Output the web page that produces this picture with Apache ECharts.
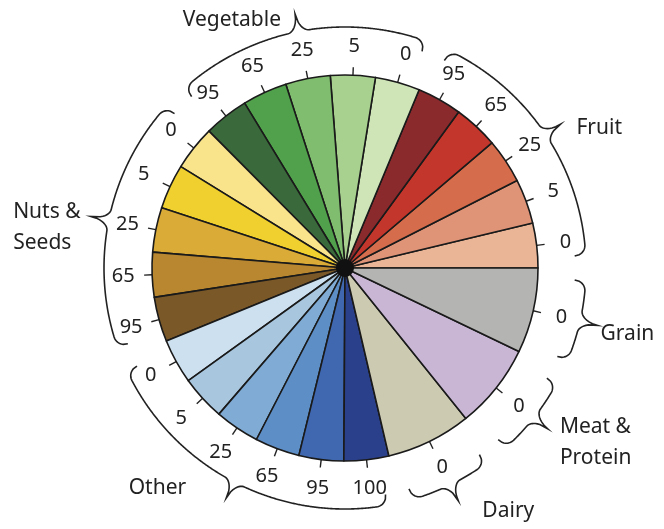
<!DOCTYPE html>
<html>
<head>
<meta charset="utf-8">
<script src="https://cdn.jsdelivr.net/npm/echarts@6/dist/echarts.min.js"></script>
<style>
  html, body { margin: 0; padding: 0; background: #ffffff; }
  #chart { width: 664px; height: 529px; }
</style>
</head>
<body>
<div id="chart"></div>
<script>
// slices, counter-clockwise from 3 o'clock
var sliceGroup = [
  'Fruit', 'Fruit', 'Fruit', 'Fruit', 'Fruit',
  'Vegetable', 'Vegetable', 'Vegetable', 'Vegetable', 'Vegetable',
  'Nuts & Seeds', 'Nuts & Seeds', 'Nuts & Seeds', 'Nuts & Seeds', 'Nuts & Seeds',
  'Other', 'Other', 'Other', 'Other', 'Other', 'Other',
  'Dairy', 'Meat & Protein', 'Grain'
];
var sliceLabel = [
  '0', '5', '25', '65', '95',
  '0', '5', '25', '65', '95',
  '0', '5', '25', '65', '95',
  '0', '5', '25', '65', '95', '100',
  '0', '0', '0'
];
var sliceWeight = [
  1, 1, 1, 1, 1,
  1, 1, 1, 1, 1,
  1, 1, 1, 1, 1,
  1, 1, 1, 1, 1, 1,
  1.9, 1.9, 1.9
];
var groupNames = ['Fruit', 'Vegetable', 'Nuts & Seeds', 'Other', 'Dairy', 'Meat & Protein', 'Grain'];
var groupTitles = ['Fruit', 'Vegetable', 'Nuts &\nSeeds', 'Other', 'Dairy', 'Meat &\nProtein', 'Grain'];

var sliceColor = [
  '#eab496', '#df9478', '#d56d4d', '#c3362b', '#8a2a2d',
  '#cfe5b8', '#a8d18f', '#80bd6e', '#51a04b', '#3a6a3b',
  '#f9e48c', '#efd02e', '#dbab37', '#b8872f', '#7a5828',
  '#cde0ef', '#a8c7df', '#7fabd5', '#5e8ec6', '#3f68b0', '#2b408b',
  '#cccab1', '#c9b6d5', '#b4b5b3'
];

var CX = 345, CY = 268, R = 193;
var BRACE_R = 241, HOOK = 11, CUSP = 18, BEND = 11, INSET = 3;
var FONT = 'Noto Sans';

// label placement next to each brace tip: [align, verticalAlign, dx, dy]
var titleLayout = {
  'Fruit': ['left', 'middle', 16, 4],
  'Vegetable': ['right', 'middle', -14, 6],
  'Nuts & Seeds': ['left', 'middle', -78, 11],
  'Other': ['right', 'middle', -40, -10],
  'Dairy': ['left', 'middle', 24, 10],
  'Meat & Protein': ['left', 'middle', 12, 14],
  'Grain': ['left', 'middle', 3, 9]
};

var chart = echarts.init(document.getElementById('chart'));

var total = sliceWeight.reduce(function (a, b) { return a + b; }, 0);

function pt(deg, r) {
  var a = deg * Math.PI / 180;
  return [CX + r * Math.cos(a), CY - r * Math.sin(a)];
}

function bump(d) {
  if (d >= BEND) return 0;
  var t = 1 - d / BEND;
  return 1 - Math.sqrt(1 - t * t);
}

// group spans in degrees
var spans = groupNames.map(function () { return [Infinity, -Infinity]; });
var cum = 0;
sliceWeight.forEach(function (w, i) {
  var g = groupNames.indexOf(sliceGroup[i]);
  var a0 = cum / total * 360;
  cum += w;
  var a1 = cum / total * 360;
  spans[g][0] = Math.min(spans[g][0], a0);
  spans[g][1] = Math.max(spans[g][1], a1);
});

var graphics = [];
spans.forEach(function (s, g) {
  var a0 = s[0] + INSET, a1 = s[1] - INSET;
  var L = BRACE_R * (a1 - a0) * Math.PI / 180;
  var pts = [];
  var n = Math.ceil(L);
  for (var k = 0; k <= n; k++) {
    var sArc = k / n * L;
    if (k === Math.round(n / 2)) sArc = L / 2;
    var dEnd = Math.min(sArc, L - sArc);
    var dMid = Math.abs(sArc - L / 2);
    var r = BRACE_R - HOOK * bump(dEnd) + CUSP * bump(dMid);
    pts.push(pt(a1 - sArc / L * (a1 - a0), r));
  }
  graphics.push({
    type: 'polyline',
    silent: true,
    shape: { points: pts },
    style: { stroke: '#222', lineWidth: 1.6, fill: null }
  });
  var tip = pt((a0 + a1) / 2, BRACE_R + CUSP);
  var lay = titleLayout[groupNames[g]];
  graphics.push({
    type: 'text',
    silent: true,
    x: tip[0] + lay[2],
    y: tip[1] + lay[3],
    style: {
      text: groupTitles[g],
      align: lay[0],
      verticalAlign: lay[1],
      fontFamily: FONT,
      fontSize: 21,
      lineHeight: 31,
      fill: '#222222'
    }
  });
});

var sliceData = sliceWeight.map(function (w, i) {
  return { name: sliceGroup[i] + ' ' + sliceLabel[i], value: w };
});

var option = {
  backgroundColor: '#ffffff',
  animation: false,
  series: [
    {
      type: 'pie',
      center: [CX, CY],
      radius: [0, R],
      startAngle: 0,
      clockwise: false,
      avoidLabelOverlap: false,
      silent: true,
      data: sliceData,
      color: sliceColor,
      itemStyle: { borderColor: '#1a1a1a', borderWidth: 1.6 },
      label: {
        show: true,
        position: 'outside',
        alignTo: 'none',
        formatter: '',
        fontSize: 1
      },
      labelLine: {
        show: true,
        length: 8,
        length2: 0,
        smooth: false,
        lineStyle: { color: '#222', width: 1.4 }
      },
      labelLayout: { hideOverlap: false },
      emphasis: { disabled: true }
    },
    {
      type: 'pie',
      center: [CX, CY],
      radius: [R + 11, R + 41],
      startAngle: 0,
      clockwise: false,
      avoidLabelOverlap: false,
      silent: true,
      data: sliceData,
      itemStyle: { color: 'rgba(0,0,0,0)', borderWidth: 0 },
      label: {
        show: true,
        position: 'inside',
        formatter: function (p) { return sliceLabel[p.dataIndex]; },
        fontFamily: FONT,
        fontSize: 20,
        color: '#222222'
      },
      labelLine: { show: false },
      labelLayout: { hideOverlap: false },
      emphasis: { disabled: true }
    },
    {
      type: 'pie',
      center: [CX, CY],
      radius: [0, 9],
      silent: true,
      data: [{ name: 'hub', value: 1 }],
      itemStyle: { color: '#111111' },
      label: { show: false },
      labelLine: { show: false },
      emphasis: { disabled: true }
    }
  ],
  graphic: graphics
};

chart.setOption(option);
</script>
</body>
</html>
